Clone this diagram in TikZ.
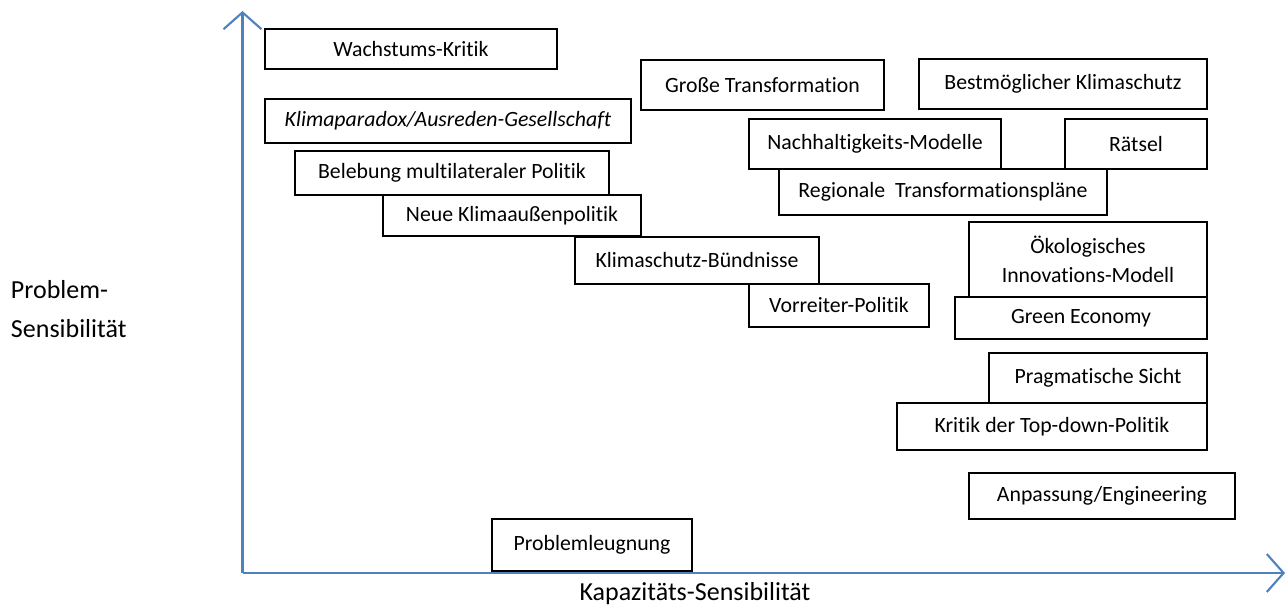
\documentclass[tikz,border=0pt]{standalone}
\usepackage{fontspec}
\setmainfont{Carlito}[Ligatures={NoCommon}]
\usepackage{tikz}
\usetikzlibrary{arrows.meta}
\definecolor{axiscolor}{RGB}{79,129,189}

\begin{document}
\begin{tikzpicture}[>={Straight Barb[length=4.2mm,width=9.5mm]}]
  % Stile
  \tikzset{
    box/.style={rectangle,draw,line width=0.8pt,inner sep=0pt,
      font=\fontsize{15.5}{21}\selectfont,align=center},
    axis/.style={->,draw=axiscolor,line width=1.5pt},
    axlab/.style={font=\fontsize{18.5}{28}\selectfont,align=left}
  }
  \useasboundingbox (0,0) rectangle (32.2,15.125);

  %================= ACHSEN =================
  \coordinate (O) at (6.0625,0.8);
  \coordinate (ytip) at (6.0625,14.85);
  \coordinate (xtip) at (32.125,0.8);
  \draw[axis] (O) -- (ytip);
  \draw[axis] (O) -- (xtip);

  \node[axlab,anchor=west] (ylab) at (0.15,7.4) {Problem-\\Sensibilität};
  \node[axlab] (xlab) at (17.375,0.28) {Kapazitäts-Sensibilität};

  %================= LINKS =================
  \node[box,minimum width=7.3cm,minimum height=1.0cm] (wachstum) at (10.275,13.9) {Wachstums-Kritik};
  \node[box,minimum width=9.15cm,minimum height=1.1cm] (paradox) at (11.2,12.1) {\itshape Klimaparadox/Ausreden-Gesellschaft};
  \node[box,minimum width=7.85cm,minimum height=1.1cm] (belebung) at (11.3,10.8) {Belebung multilateraler Politik};
  \node[box,minimum width=6.45cm,minimum height=1.025cm] (aussen) at (12.8,9.7375) {Neue Klimaaußenpolitik};
  \node[box,minimum width=6.1cm,minimum height=1.175cm] (buendnis) at (17.425,8.6125) {Klimaschutz-Bündnisse};
  \node[box,minimum width=4.5cm,minimum height=1.075cm] (vorreiter) at (20.975,7.4875) {Vorreiter-Politik};

  %================= MITTE / OBEN =================
  \node[box,minimum width=6.075cm,minimum height=1.25cm] (gross) at (19.0625,13.0) {Große Transformation};
  \node[box,minimum width=6.3cm,minimum height=1.25cm] (nachhalt) at (21.875,11.525) {Nachhaltigkeits-Modelle};
  \node[box,minimum width=8.2cm,minimum height=1.15cm] (regional) at (23.575,10.325) {Regionale\ \ Transformationspläne};

  %================= RECHTS =================
  \node[box,minimum width=7.2cm,minimum height=1.25cm] (best) at (26.575,13.025) {Bestmöglicher Klimaschutz};
  \node[box,minimum width=3.55cm,minimum height=1.25cm] (raetsel) at (28.4,11.525) {Rätsel};
  \node[box,minimum width=5.95cm,minimum height=1.875cm] (oeko) at (27.2,8.6375) {Ökologisches\\Innovations-Modell};
  \node[box,minimum width=6.3cm,minimum height=1.05cm] (green) at (27.025,7.175) {Green Economy};
  \node[box,minimum width=5.45cm,minimum height=1.25cm] (pragma) at (27.45,5.675) {Pragmatische Sicht};
  \node[box,minimum width=7.75cm,minimum height=1.175cm] (topdown) at (26.3,4.4625) {Kritik der Top-down-Politik};
  \node[box,minimum width=6.65cm,minimum height=1.15cm] (anpass) at (27.55,2.725) {Anpassung/Engineering};

  %================= UNTEN =================
  \node[box,minimum width=5.0cm,minimum height=1.3cm] (leugnung) at (14.8,1.5) {Problemleugnung};

\end{tikzpicture}
\end{document}
